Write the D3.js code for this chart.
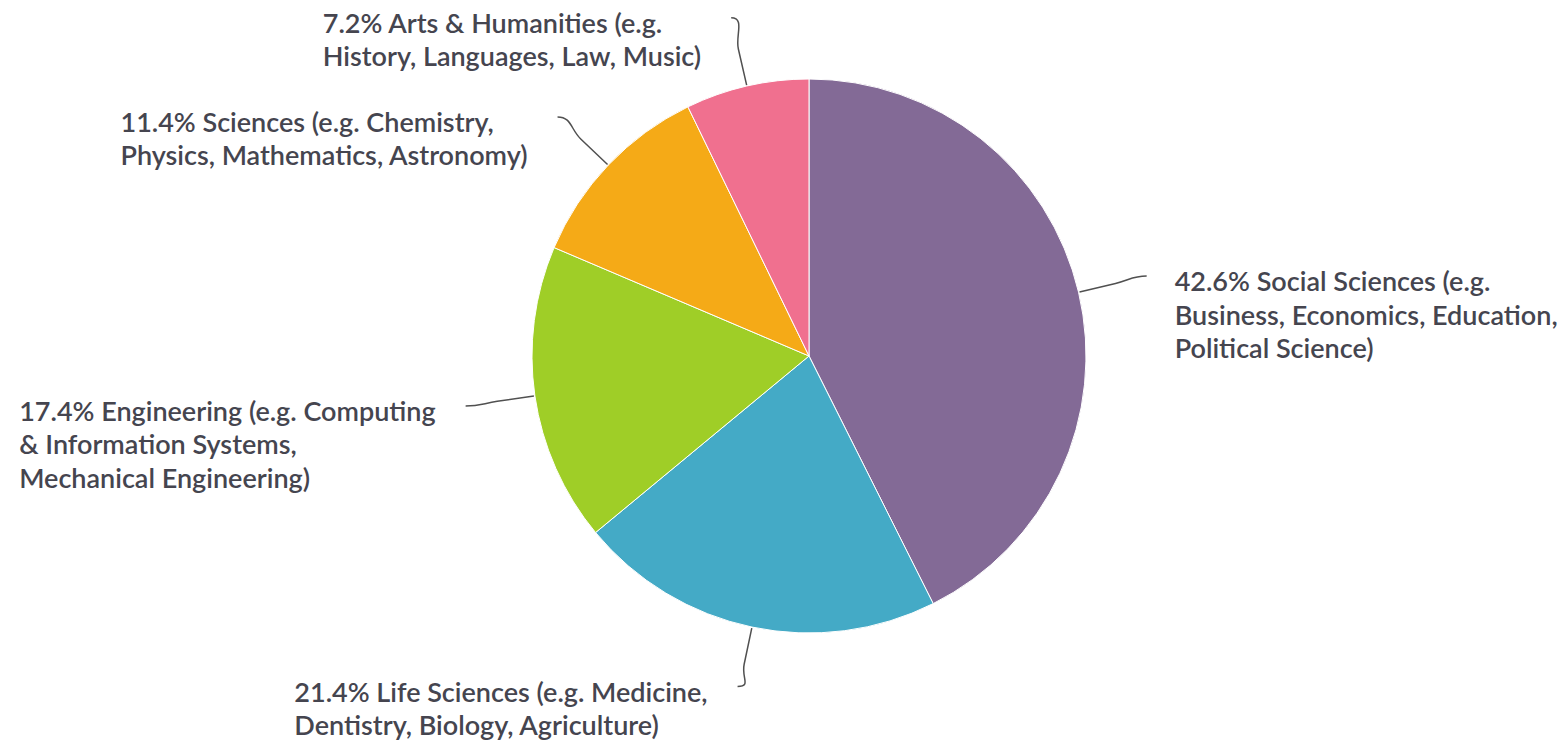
<!DOCTYPE html>
<html>
<head>
<meta charset="utf-8">
<script src="https://cdn.jsdelivr.net/npm/d3@7"></script>
<style>
  body { margin: 0; background: #fff; }
  svg text { font-family: Lato, "Open Sans", sans-serif; }
</style>
</head>
<body>
<svg id="chart" width="1565" height="742"></svg>
<script>

// data
var shares = [42.6, 21.4, 17.4, 11.4, 7.2];
var fields = [
  "Social Sciences",
  "Life Sciences",
  "Engineering",
  "Sciences",
  "Arts & Humanities"
];
// label lines, as they wrap in the picture
var labelLines = [
  ["42.6% Social Sciences (e.g.", "Business, Economics, Education,", "Political Science)"],
  ["21.4% Life Sciences (e.g. Medicine,", "Dentistry, Biology, Agriculture)"],
  ["17.4% Engineering (e.g. Computing", "& Information Systems,", "Mechanical Engineering)"],
  ["11.4% Sciences (e.g. Chemistry,", "Physics, Mathematics, Astronomy)"],
  ["7.2% Arts & Humanities (e.g.", "History, Languages, Law, Music)"]
];
var colors = ["#836a96", "#44aac6", "#9fce27", "#f5aa17", "#f0708f"];

var data = shares.map(function(d, i) {
  return {field: fields[i], share: d, lines: labelLines[i], color: colors[i]};
});

// layout
var height = 742,
    cx = 809, cy = 356,
    radius = 277,
    labelDist = 70,
    lineHeight = 33.5,
    baseShift = 15;

var svg = d3.select("#chart");

var pie = d3.pie()
  .sort(null)
  .value(function(d) { return d.share; });

var arc = d3.arc()
  .innerRadius(0)
  .outerRadius(radius);

var g = svg.append("g")
  .attr("transform", "translate(" + cx + "," + cy + ")");

var arcs = pie(data);

// slices
g.selectAll("path.slice")
  .data(arcs)
  .enter()
  .append("path")
  .attr("class", "slice")
  .attr("d", arc)
  .attr("fill", function(d) { return d.data.color; })
  .attr("stroke", "#fff")
  .attr("stroke-width", 1);

// point on a ray from the centre at the slice mid angle
var polar = function(a, r) {
  return [r * Math.sin(a), -r * Math.cos(a)];
};
var midAngle = function(d) { return (d.startAngle + d.endAngle) / 2; };

// label anchors, pushed up when the last line would fall off the bottom
arcs.forEach(function(d) {
  var a = midAngle(d);
  var end = polar(a, radius + labelDist);
  var lastBase = cy + end[1] + baseShift + (d.data.lines.length - 1) * lineHeight;
  var maxBase = height - 7;
  if (lastBase > maxBase) end[1] -= (lastBase - maxBase);
  d.anchor = end;
});

// connectors
g.selectAll("path.connector")
  .data(arcs)
  .enter()
  .append("path")
  .attr("class", "connector")
  .attr("fill", "none")
  .attr("stroke", "#505050")
  .attr("stroke-width", 1.5)
  .attr("d", function(d) {
    var a = midAngle(d);
    var s = a < Math.PI ? -1 : 1;
    var end = d.anchor;
    var c2 = polar(a, radius + labelDist - 18);
    var knee = polar(a, radius + labelDist - 32);
    var edge = polar(a, radius + 1);
    return "M" + end[0] + "," + end[1] +
      "C" + (end[0] + s * 14) + "," + end[1] + " " + c2[0] + "," + c2[1] + " " + knee[0] + "," + knee[1] +
      "L" + edge[0] + "," + edge[1];
  });

// labels
var labels = g.selectAll("text.label")
  .data(arcs)
  .enter()
  .append("text")
  .attr("class", "label")
  .attr("font-size", 27)
  .attr("font-weight", 600)
  .attr("fill", "#45454f")
  .attr("transform", function(d) {
    var dx = midAngle(d) < Math.PI ? 28 : -30;
    return "translate(" + (d.anchor[0] + dx) + "," + (d.anchor[1] + baseShift) + ")";
  });

labels.each(function(d) {
  var t = d3.select(this);
  d.data.lines.forEach(function(line, i) {
    t.append("tspan")
      .attr("x", 0)
      .attr("y", i * lineHeight)
      .text(line);
  });
});

// left-side labels are left aligned as a block ending at the connector
labels.filter(function(d) { return midAngle(d) >= Math.PI; })
  .each(function() {
    var w = this.getBBox().width;
    d3.select(this).selectAll("tspan").attr("x", -w);
  });

</script>
</body>
</html>
